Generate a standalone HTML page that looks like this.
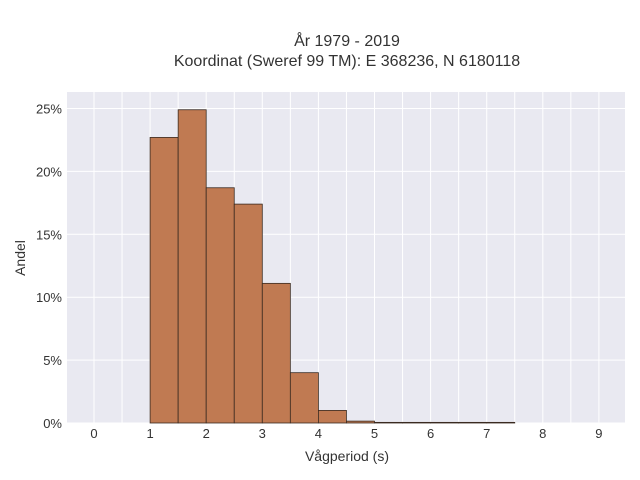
<!DOCTYPE html>
<html><head><meta charset="utf-8"><style>
body{margin:0;background:#fff;}
svg{display:block;font-family:"Liberation Sans",sans-serif;}
</style></head><body>
<svg id="c" width="640" height="480" xmlns="http://www.w3.org/2000/svg">
<text x="347" y="46" text-anchor="middle" font-size="16" fill="#333">År 1979 - 2019</text>
<text x="347" y="66" text-anchor="middle" font-size="16" fill="#333">Koordinat (Sweref 99 TM): E 368236, N 6180118</text>
<rect x="67" y="92" width="558" height="331" fill="#e9e9f1"/>
<g id="grid"></g><g id="bars"></g><g id="ticks"></g>
<text x="347" y="461" text-anchor="middle" font-size="14" fill="#333">Vågperiod (s)</text>
<text x="25" y="258" text-anchor="middle" font-size="14" fill="#333" transform="rotate(-90 25 258)">Andel</text>
</svg>
<script>
const binStarts=[1,1.5,2,2.5,3,3.5,4,4.5,5,5.5,6,6.5,7];
const shares=[22.7,24.9,18.7,17.4,11.1,4.0,1.0,0.15,0.05,0.05,0.05,0.05,0.05];
const binWidth=0.5;
const xTicks=[0,1,2,3,4,5,6,7,8,9];
const yTicks=[0,5,10,15,20,25];
const NS="http://www.w3.org/2000/svg";
const X=v=>94+v*56.1, Y=p=>423-p*12.58;
const grid=document.getElementById('grid'),bars=document.getElementById('bars'),ticks=document.getElementById('ticks');
function mk(tag,a,p){const e=document.createElementNS(NS,tag);for(const k in a)e.setAttribute(k,a[k]);p.appendChild(e);return e;}
for(let v=-0.5;v<=9.5;v+=0.5){const x=X(v);if(x<67||x>625)continue;const l=mk('line',{x1:x,x2:x,y1:92,y2:423,stroke:'#fff','stroke-width':1},grid);

}
yTicks.forEach(t=>{const l=mk('line',{x1:67,x2:625,y1:Y(t),y2:Y(t),stroke:'#fff','stroke-width':1},grid);


const tx=mk('text',{x:62,y:Y(t)+5,'text-anchor':'end','font-size':13,fill:'#333'},ticks);tx.textContent=t+'%';

});
xTicks.forEach(t=>{const tx=mk('text',{x:X(t),y:438,'text-anchor':'middle','font-size':13,fill:'#333'},ticks);tx.textContent=t;

});
binStarts.forEach((s,i)=>{const r=mk('rect',{x:X(s),y:Y(shares[i]),width:X(s+binWidth)-X(s),height:Y(0)-Y(shares[i]),fill:'#c07a52',stroke:'#3a2a20','stroke-width':0.8},bars);

});
</script>
</body></html>
